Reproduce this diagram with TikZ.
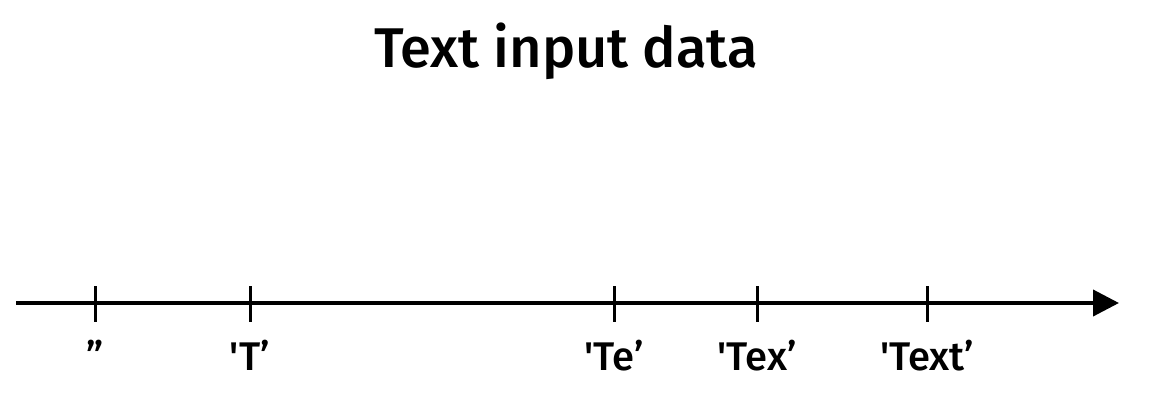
\documentclass[tikz,border=0pt]{standalone}
\usepackage{fontspec}
\setmainfont{Fira Sans}[UprightFont={* Medium}]
\usepackage{xcolor}
\usetikzlibrary{arrows.meta, positioning}

\tikzset{
  axisline/.style={line width=4pt, -{Triangle[length=26pt, width=26pt]}},
  tickmark/.style={line width=3pt},
  ticklabel/.style={anchor=base, inner sep=0pt, font=\fontsize{40}{44}\selectfont},
  titletext/.style={anchor=base, inner sep=0pt, font=\fontsize{56}{62}\selectfont}
}

\begin{document}
\begin{tikzpicture}[x=1pt, y=1pt]
  \useasboundingbox (0,0) rectangle (1161,405);

  %% Title
  \node[titletext] (title) at (566,337) {Text input data};

  %% Time axis
  \coordinate (axstart) at (16,102);
  \coordinate (axend) at (1119,102);
  \draw[axisline] (axstart) -- (axend);

  %% Ticks and prefixes
  \foreach \xpos/\lab/\name in {95/{”}/empty, 250/{\textquotesingle T’}/t, 614/{\textquotesingle Te’}/te,
                               757/{\textquotesingle Tex’}/tex, 927/{\textquotesingle Text’}/text} {
    \coordinate (tick-\name) at (\xpos,102);
    \draw[tickmark] ([yshift=17pt]tick-\name) -- ([yshift=-19pt]tick-\name);
    \node[ticklabel] (lab-\name) at (\xpos,35) {\lab};
  }

\end{tikzpicture}
\end{document}
